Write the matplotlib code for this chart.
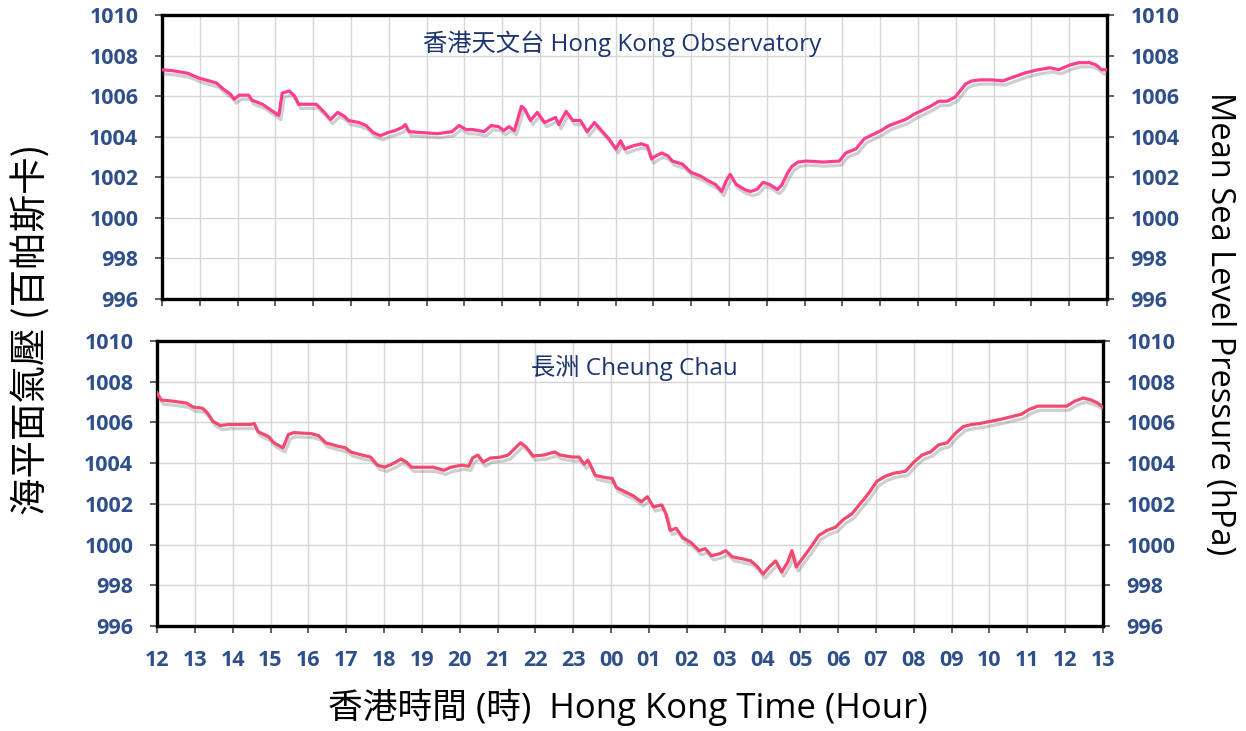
import matplotlib
matplotlib.use("Agg")
import matplotlib.pyplot as plt
import matplotlib.patheffects as pe

plt.rcParams['font.family'] = ['Open Sans', 'Noto Sans CJK TC', 'DejaVu Sans']

# hours after 12:00 (day 1) and mean sea level pressure (hPa)
hko_hours = [0, 0.3, 0.68, 0.96, 1.25, 1.44, 1.62, 1.81, 1.91, 2.05, 2.29, 2.38, 2.66, 2.85,
             3.09, 3.18, 3.37, 3.51, 3.61, 4.08, 4.27, 4.46, 4.65, 4.83, 4.93, 5.21, 5.40,
             5.59, 5.78, 5.97, 6.16, 6.35, 6.44, 6.53, 6.91, 7.29, 7.67, 7.86, 8.05, 8.23,
             8.52, 8.71, 8.90, 9.04, 9.18, 9.32, 9.37, 9.51, 9.60, 9.75, 9.93, 10.12, 10.41,
             10.50, 10.69, 10.87, 11.07, 11.25, 11.44, 11.63, 11.82, 12.01, 12.13, 12.24,
             12.46, 12.68, 12.84, 12.95, 13.06, 13.22, 13.39, 13.5, 13.77, 13.99, 14.26,
             14.43, 14.64, 14.81, 14.92, 15.03, 15.19, 15.41, 15.57, 15.74, 15.9, 16.07,
             16.28, 16.39, 16.56, 16.67, 16.83, 17.05, 17.49, 17.92, 18.09, 18.36, 18.58,
             18.8, 19.02, 19.23, 19.45, 19.67, 19.89, 20.11, 20.33, 20.55, 20.77, 20.98,
             21.09, 21.26, 21.42, 21.64, 21.97, 22.24, 22.46, 22.84, 23.17, 23.5, 23.72,
             24.04, 24.26, 24.54, 24.7, 24.86, 25]
hko_pres = [1007.3, 1007.25, 1007.13, 1006.9, 1006.75, 1006.65, 1006.35, 1006.1, 1005.85,
            1006.05, 1006.05, 1005.8, 1005.6, 1005.35, 1005.05, 1006.15, 1006.25, 1006.0,
            1005.6, 1005.6, 1005.25, 1004.85, 1005.2, 1005.0, 1004.8, 1004.7, 1004.55,
            1004.2, 1004.05, 1004.2, 1004.3, 1004.45, 1004.6, 1004.25, 1004.2, 1004.15,
            1004.25, 1004.55, 1004.35, 1004.35, 1004.25, 1004.55, 1004.5, 1004.3, 1004.5,
            1004.3, 1004.6, 1005.5, 1005.35, 1004.8, 1005.2, 1004.7, 1004.95, 1004.6,
            1005.25, 1004.8, 1004.8, 1004.25, 1004.7, 1004.3, 1003.9, 1003.4, 1003.8,
            1003.4, 1003.55, 1003.65, 1003.55, 1002.9, 1003.05, 1003.2, 1003.05, 1002.8,
            1002.65, 1002.25, 1002.05, 1001.85, 1001.65, 1001.3, 1001.8, 1002.15, 1001.65,
            1001.4, 1001.3, 1001.4, 1001.75, 1001.65, 1001.4, 1001.6, 1002.25, 1002.55,
            1002.75, 1002.8, 1002.75, 1002.8, 1003.2, 1003.4, 1003.9, 1004.1, 1004.3,
            1004.55, 1004.7, 1004.85, 1005.1, 1005.3, 1005.5, 1005.75, 1005.75, 1005.95,
            1006.2, 1006.6, 1006.75, 1006.8, 1006.8, 1006.75, 1006.9, 1007.15, 1007.3,
            1007.4, 1007.3, 1007.55, 1007.65, 1007.65, 1007.55, 1007.3, 1007.3]

cc_hours = [0, 0.11, 0.4, 0.78, 0.96, 1.2, 1.34, 1.48, 1.67, 1.91, 2.48, 2.57, 2.67, 2.95,
            3.09, 3.33, 3.47, 3.61, 4.08, 4.27, 4.46, 4.74, 4.98, 5.12, 5.41, 5.64, 5.83,
            6.02, 6.26, 6.45, 6.59, 6.73, 7.01, 7.3, 7.58, 7.77, 8.05, 8.24, 8.34, 8.48,
            8.62, 8.81, 9.09, 9.28, 9.47, 9.61, 9.75, 9.94, 10.23, 10.51, 10.65, 10.97,
            11.15, 11.29, 11.39, 11.58, 11.82, 12.03, 12.14, 12.36, 12.58, 12.8, 12.96,
            13.12, 13.34, 13.45, 13.56, 13.72, 13.89, 14.11, 14.33, 14.49, 14.65, 14.87,
            15.03, 15.2, 15.47, 15.69, 15.85, 16.02, 16.18, 16.35, 16.51, 16.67, 16.78,
            16.89, 17.05, 17.27, 17.49, 17.71, 17.93, 18.15, 18.36, 18.58, 18.8, 19.02,
            19.24, 19.46, 19.78, 20.0, 20.22, 20.44, 20.66, 20.88, 21.09, 21.31, 21.53,
            21.75, 22.02, 22.29, 22.62, 22.84, 23.06, 23.28, 24.04, 24.26, 24.48, 24.69,
            24.86, 25]
cc_pres = [1007.45, 1007.1, 1007.05, 1006.95, 1006.75, 1006.7, 1006.45, 1006.05, 1005.85,
           1005.9, 1005.9, 1005.95, 1005.55, 1005.3, 1005.0, 1004.75, 1005.4, 1005.5,
           1005.45, 1005.35, 1005.0, 1004.85, 1004.75, 1004.55, 1004.4, 1004.3, 1003.9,
           1003.8, 1004.0, 1004.2, 1004.05, 1003.8, 1003.8, 1003.8, 1003.65, 1003.8,
           1003.9, 1003.85, 1004.25, 1004.4, 1004.05, 1004.25, 1004.3, 1004.4, 1004.75,
           1005.0, 1004.8, 1004.35, 1004.4, 1004.55, 1004.4, 1004.3, 1004.3, 1003.95,
           1004.15, 1003.4, 1003.3, 1003.25, 1002.8, 1002.6, 1002.4, 1002.1, 1002.35,
           1001.85, 1001.95, 1001.5, 1000.7, 1000.8, 1000.35, 1000.1, 999.7, 999.8,
           999.45, 999.55, 999.7, 999.4, 999.3, 999.2, 998.95, 998.55, 998.9, 999.2,
           998.65, 999.15, 999.7, 998.9, 999.3, 999.85, 1000.45, 1000.7, 1000.85, 1001.25,
           1001.5, 1002.0, 1002.5, 1003.1, 1003.35, 1003.5, 1003.6, 1004.05, 1004.4,
           1004.55, 1004.9, 1005.0, 1005.45, 1005.8, 1005.9, 1005.95, 1006.05, 1006.15,
           1006.3, 1006.4, 1006.65, 1006.8, 1006.8, 1007.05, 1007.2, 1007.1, 1006.95,
           1006.75]

hour_labels = ['12', '13', '14', '15', '16', '17', '18', '19', '20', '21', '22', '23', '00',
               '01', '02', '03', '04', '05', '06', '07', '08', '09', '10', '11', '12', '13']
pres_ticks = [996, 998, 1000, 1002, 1004, 1006, 1008, 1010]

tick_col = '#2f4f8a'
title_col = '#1c3470'

fig = plt.figure(figsize=(12.46, 7.31), dpi=100)
ax1 = fig.add_axes([162 / 1246, 1 - 299 / 731, 945 / 1246, 284 / 731])
ax2 = fig.add_axes([157 / 1246, 1 - 626 / 731, 946 / 1246, 285 / 731])

panels = [(ax1, hko_hours, hko_pres, '#ff3d8e', '香港天文台 Hong Kong Observatory', 0.487, 0.90),
          (ax2, cc_hours, cc_pres, '#f2496f', '長洲 Cheung Chau', 0.505, 0.905)]

for ax, hrs, pres, col, title, tx, ty in panels:
    ax.plot(hrs, pres, color=col, lw=2.3, zorder=3,
            path_effects=[pe.SimpleLineShadow(offset=(1.5, -3), shadow_color='#777777', alpha=0.35),
                          pe.Normal()])
    ax.set_xlim(0, 25)
    ax.set_ylim(996, 1010)
    ax.set_xticks(range(26))
    ax.set_yticks(pres_ticks)
    ax.grid(True, color='#d6d6d6', lw=1.0)
    ax.set_axisbelow(True)
    for s in ax.spines.values():
        s.set_linewidth(2.4)
        s.set_color('black')
    ax.tick_params(axis='both', direction='out', length=5, width=1.2, color='#444444')
    ax.tick_params(axis='y', right=True, labelright=True, labelsize=15.5, labelcolor=tick_col, pad=12)
    for lab in ax.get_yticklabels():
        lab.set_fontweight('bold')
    ax.text(tx, ty, title, transform=ax.transAxes, ha='center', va='center',
            fontsize=17.5, color=title_col)

ax1.tick_params(axis='x', labelbottom=False)
ax2.set_xticklabels(hour_labels)
ax2.tick_params(axis='x', labelsize=15.5, labelcolor=tick_col, pad=12)
for lab in ax2.get_xticklabels():
    lab.set_fontweight('bold')

fig.text(0.026, 0.549, '海平面氣壓 (百帕斯卡)', rotation=90, ha='center', va='center',
         fontsize=27, family=['Noto Sans CJK TC', 'DejaVu Sans'])
fig.text(0.979, 0.557, 'Mean Sea Level Pressure (hPa)', rotation=270, ha='center', va='center',
         fontsize=23.5)
fig.text(0.504, 0.032, '香港時間 (時)  Hong Kong Time (Hour)', ha='center', va='center',
         fontsize=25)

fig.savefig('out.png', dpi=100)
